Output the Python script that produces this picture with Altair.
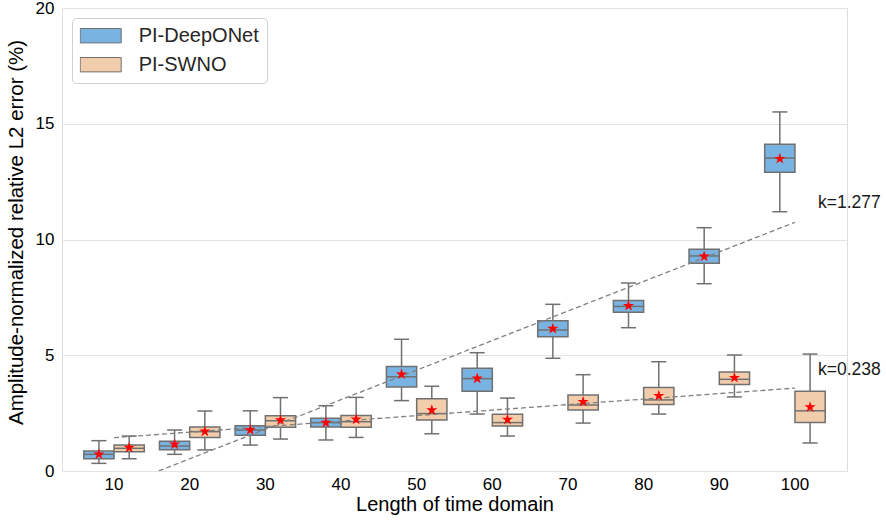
import altair as alt
import pandas as pd

# Time-domain lengths (categories on the x axis)
lengths = [10, 20, 30, 40, 50, 60, 70, 80, 90, 100]
models = ["PI-DeepONet", "PI-SWNO"]

# Box statistics per model: lower whisker, Q1, median, Q3, upper whisker, mean (%)
deeponet_lo = [0.33, 0.72, 1.12, 1.34, 3.04, 2.46, 4.87, 6.19, 8.09, 11.20]
deeponet_q1 = [0.53, 0.92, 1.54, 1.90, 3.63, 3.44, 5.80, 6.86, 8.97, 12.90]
deeponet_med = [0.72, 1.08, 1.77, 2.09, 4.07, 3.99, 6.09, 7.11, 9.29, 13.52]
deeponet_q3 = [0.86, 1.28, 1.96, 2.28, 4.51, 4.44, 6.49, 7.37, 9.58, 14.11]
deeponet_hi = [1.31, 1.77, 2.60, 2.82, 5.69, 5.11, 7.20, 8.12, 10.51, 15.51]
deeponet_mean = [0.72, 1.15, 1.77, 2.09, 4.18, 4.00, 6.15, 7.14, 9.27, 13.49]

swno_lo = [0.53, 0.91, 1.38, 1.45, 1.61, 1.51, 2.07, 2.46, 3.20, 1.21]
swno_q1 = [0.83, 1.45, 1.89, 1.89, 2.20, 1.94, 2.64, 2.87, 3.74, 2.09]
swno_med = [0.98, 1.70, 2.17, 2.13, 2.48, 2.09, 2.85, 3.07, 3.96, 2.60]
swno_q3 = [1.12, 1.90, 2.39, 2.40, 3.12, 2.45, 3.28, 3.61, 4.28, 3.44]
swno_hi = [1.51, 2.59, 3.17, 3.18, 3.66, 3.15, 4.16, 4.72, 5.01, 5.05]
swno_mean = [1.01, 1.71, 2.20, 2.23, 2.63, 2.22, 2.99, 3.25, 4.03, 2.76]

# Linear trends of the error against the domain length
fit_labels = ["k=1.277", "k=0.238"]
fit_start = [-0.75, 1.44]    # value of each trend at length 10
fit_slope = [1.277, 0.238]   # increase per step of 10
fit_label_y = [11.36, 4.15]

blue = "#78b3e1"
peach = "#f2cdab"
edge = "#707070"
font = "Liberation Sans"

rows = []
for name, lo, q1, med, q3, hi, mean in [
    (models[0], deeponet_lo, deeponet_q1, deeponet_med, deeponet_q3, deeponet_hi, deeponet_mean),
    (models[1], swno_lo, swno_q1, swno_med, swno_q3, swno_hi, swno_mean),
]:
    for i, L in enumerate(lengths):
        rows.append(dict(length=str(L), model=name, lo=lo[i], q1=q1[i],
                         med=med[i], q3=q3[i], hi=hi[i], mean=mean[i]))
boxes = pd.DataFrame(rows)

fit_rows = []
for lab, a, k in zip(fit_labels, fit_start, fit_slope):
    for L in (lengths[0], lengths[-1]):
        fit_rows.append(dict(fit=lab, length=str(L), value=a + k * (L - lengths[0]) / 10))
fits = pd.DataFrame(fit_rows)
fit_text = pd.DataFrame(dict(fit=fit_labels, length=[str(lengths[-1])] * 2, value=fit_label_y))

length_order = [str(L) for L in lengths]
x_enc = alt.X("length:N", sort=length_order,
              scale=alt.Scale(paddingInner=0.2, paddingOuter=0.288),
              axis=alt.Axis(title="Length of time domain", labelAngle=0, ticks=False,
                            domain=False, labelFontSize=17, labelPadding=5,
                            titleFontSize=20, titlePadding=2, titleFontWeight="normal"))
xoff = alt.XOffset("model:N", sort=models)
y_scale = alt.Scale(domain=[0, 20], nice=False)
y_axis = alt.Axis(title="Amplitude-normalized relative L2 error (%)", values=[0, 5, 10, 15, 20],
                  ticks=False, domain=False, labelFontSize=17, labelPadding=8,
                  titleFontSize=20.5, titlePadding=9, titleY=224, titleFontWeight="normal",
                  grid=True, gridColor="#e3e3e3", gridWidth=1)

base = alt.Chart(boxes)

whiskers = base.mark_rule(color=edge, strokeWidth=1.5).encode(
    x=x_enc, xOffset=xoff,
    y=alt.Y("lo:Q", scale=y_scale, axis=y_axis), y2="hi:Q")

box = base.mark_bar(stroke=edge, strokeWidth=1.5, opacity=1).encode(
    x=x_enc, xOffset=xoff,
    y=alt.Y("q1:Q", scale=y_scale), y2="q3:Q",
    color=alt.Color("model:N", sort=models,
                    scale=alt.Scale(domain=models, range=[blue, peach]),
                    legend=alt.Legend(title=None, orient="none", legendX=10, legendY=10,
                                      symbolType="M-1,-0.35H1V0.35H-1Z", symbolSize=1681,
                                      symbolStrokeColor=edge, symbolStrokeWidth=1,
                                      symbolOpacity=1, clipHeight=20, rowPadding=9,
                                      labelFontSize=20, labelFont=font, labelColor="#262626",
                                      labelOffset=17, padding=7.7, cornerRadius=4,
                                      strokeColor="#d0d0d0", fillColor="white")))

medians = base.mark_tick(color=edge, thickness=1.5, size=30, opacity=1).encode(
    x=x_enc, xOffset=xoff, y=alt.Y("med:Q", scale=y_scale))

caps_lo = base.mark_tick(color=edge, thickness=1.5, size=15, opacity=1).encode(
    x=x_enc, xOffset=xoff, y=alt.Y("lo:Q", scale=y_scale))
caps_hi = base.mark_tick(color=edge, thickness=1.5, size=15, opacity=1).encode(
    x=x_enc, xOffset=xoff, y=alt.Y("hi:Q", scale=y_scale))

trend = alt.Chart(fits).mark_line(color="#808080", strokeWidth=1.3, strokeDash=[5, 3],
                                  clip=True).encode(
    x=x_enc, y=alt.Y("value:Q", scale=y_scale), detail="fit:N")

star_path = ("M0,-1L0.2245,-0.309L0.951,-0.309L0.363,0.118L0.588,0.809L0,0.382"
             "L-0.588,0.809L-0.363,0.118L-0.951,-0.309L-0.2245,-0.309Z")
stars = base.mark_point(shape=star_path, filled=True, color="#ff0000", size=140,
                        opacity=1, strokeWidth=0).encode(
    x=x_enc, xOffset=xoff, y=alt.Y("mean:Q", scale=y_scale))

labels = alt.Chart(fit_text).mark_text(align="left", baseline="alphabetic", dx=23,
                                       fontSize=17.5, font=font, color="#1a1a1a").encode(
    x=x_enc, y=alt.Y("value:Q", scale=y_scale), text="fit:N")

chart = alt.layer(whiskers, box, medians, caps_lo, caps_hi, trend, stars, labels).properties(
    width=785, height=463,
    autosize=alt.AutoSizeParams(type="none"),
    padding={"left": 62, "top": 8, "right": 39, "bottom": 52},
).configure_view(stroke="#d9d9d9", strokeWidth=1).configure_axis(
    labelFont=font, titleFont=font, labelColor="#262626", titleColor="#262626"
).configure(background="white")

chart.save("out.html", embed_options={"renderer": "svg", "actions": False})
